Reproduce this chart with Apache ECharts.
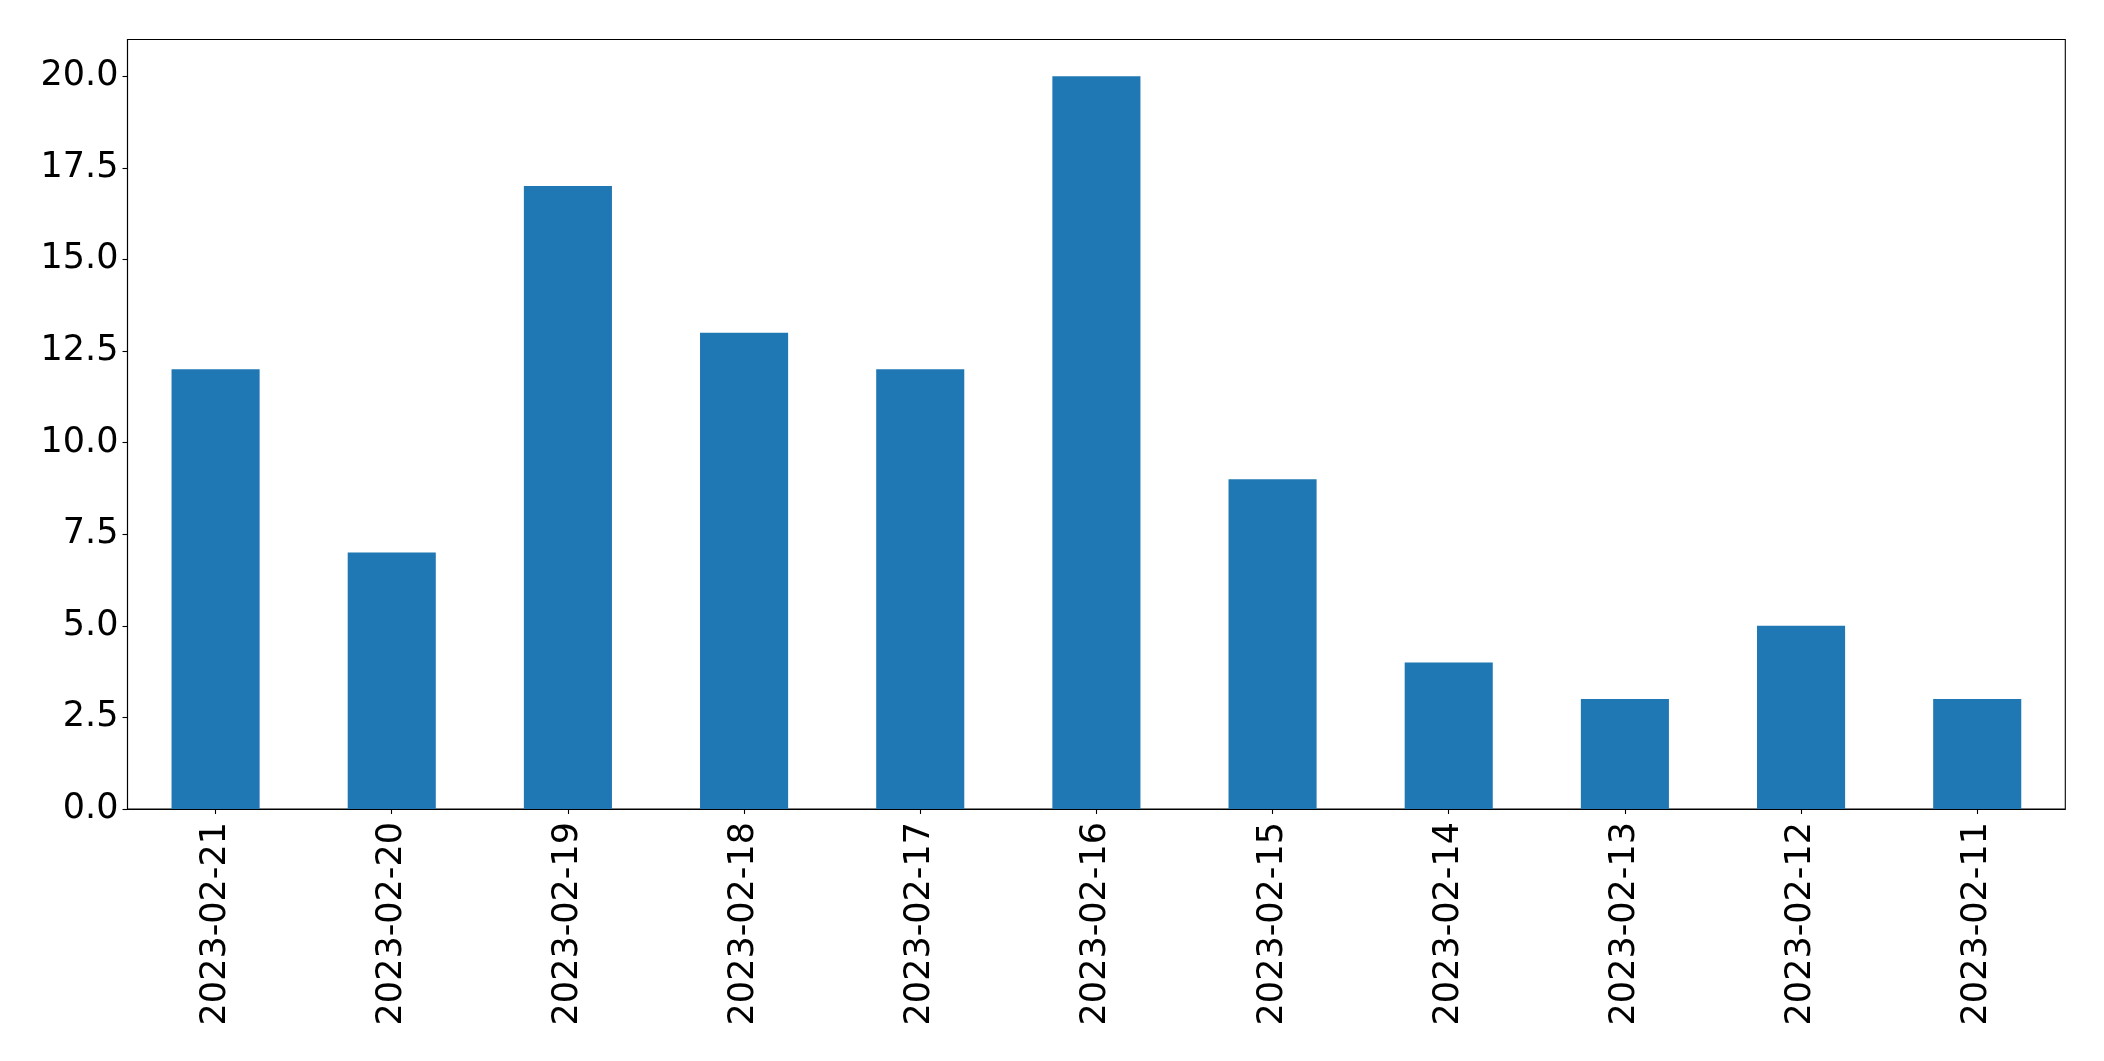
<!DOCTYPE html>
<html>
<head>
<meta charset="utf-8">
<script src="https://cdn.jsdelivr.net/npm/echarts@6/dist/echarts.min.js"></script>
<style>html,body{margin:0;padding:0;background:#fff;}#c{width:2104px;height:1061px;}</style>
</head>
<body>
<div id="c"></div>
<script>
const categories = ['2023-02-21','2023-02-20','2023-02-19','2023-02-18','2023-02-17','2023-02-16','2023-02-15','2023-02-14','2023-02-13','2023-02-12','2023-02-11'];
const values = [12, 7, 17, 13, 12, 20, 9, 4, 3, 5, 3];
const yTicks = [0, 2.5, 5, 7.5, 10, 12.5, 15, 17.5, 20];

const chart = echarts.init(document.getElementById('c'), null, {renderer: 'canvas'});
chart.setOption({
  animation: false,
  backgroundColor: '#ffffff',
  grid: {left: 127.5, right: 38.7, top: 39.5, bottom: 252, show: true, borderColor: '#000', borderWidth: 1.1, backgroundColor: 'transparent'},
  xAxis: {
    type: 'category',
    data: categories,
    boundaryGap: true,
    axisLine: {show: true, lineStyle: {color: '#000', width: 1.1}},
    axisTick: {show: true, alignWithLabel: true, length: 5, lineStyle: {color: '#000', width: 1.1}},
    axisLabel: {rotate: 90, margin: 13, color: '#000', fontFamily: 'DejaVu Sans', fontSize: 35, interval: 0}
  },
  yAxis: {
    type: 'value',
    min: 0,
    max: 21,
    splitLine: {show: false},
    axisLine: {show: true, lineStyle: {color: '#000', width: 1.1}},
    axisTick: {show: true, length: 5, customValues: yTicks, lineStyle: {color: '#000', width: 1.1}},
    axisLabel: {customValues: yTicks, margin: 9, color: '#000', fontFamily: 'DejaVu Sans', fontSize: 35, formatter: v => Number(v).toFixed(1)}
  },
  series: [{
    type: 'bar',
    data: values,
    barWidth: '50%',
    itemStyle: {color: '#1f77b4'}
  }]
});
</script>
</body>
</html>
